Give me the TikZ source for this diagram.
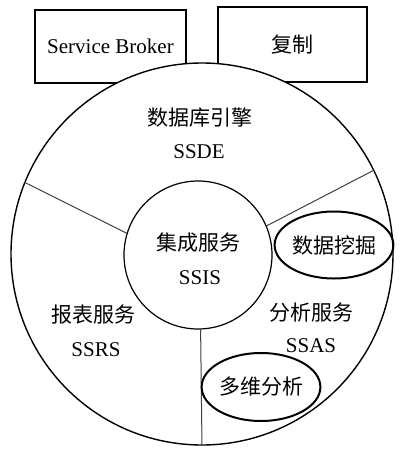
\documentclass[tikz,border=0pt]{standalone}
\usepackage{fontspec}
\setmainfont{Liberation Serif}
\newfontfamily\cjk{Noto Sans CJK SC}
\usetikzlibrary{shapes.geometric}
\tikzset{
  box/.style={draw,line width=1.1pt,fill=white,inner sep=0pt,minimum width=151pt,minimum height=73pt},
  ring/.style={draw,circle,line width=1.4pt,fill=white,inner sep=0pt},
  oval/.style={draw,ellipse,line width=2pt,inner sep=0pt,minimum width=108pt,minimum height=67pt},
  lbl/.style={inner sep=0pt,font=\fontsize{21}{25}\selectfont},
  spoke/.style={draw=black!75,line width=1pt}
}
\begin{document}
\begin{tikzpicture}[x=1pt,y=-1pt]
      \useasboundingbox[fill=white] (0,0) rectangle (412,453);
      % boxes behind the engine ring
      \node[box,font=\fontsize{21}{25}\selectfont] (SB) at (110.5,46.5) {Service Broker};
      \node[box,minimum width=149pt,minimum height=75pt,font=\fontsize{21}{25}\selectfont] (FZ) at (292.5,44.5) {\cjk 复制};
      % rings
      \node[ring,minimum size=382pt] (DB) at (202,254) {};
      \node[ring,minimum size=148pt,line width=1.2pt] (IS) at (198,255) {};
      \draw[spoke] (IS.163)--(DB.158);
      \draw[spoke] (IS.23)--(DB.26);
      \draw[spoke] (IS.272)--(DB.270);
      % labels
      \node[lbl] (SSDEcn) at (200,118) {\cjk 数据库引擎};
      \node[lbl] (SSDE) at (199,152) {SSDE};
      \node[lbl] (SSIScn) at (198,243) {\cjk 集成服务};
      \node[lbl] (SSIS) at (200,278) {SSIS};
      \node[lbl] (SSRScn) at (94,315) {\cjk 报表服务};
      \node[lbl] (SSRS) at (96,350) {SSRS};
      \node[lbl] (SSAScn) at (311,313) {\cjk 分析服务};
      \node[lbl] (SSAS) at (311,346) {SSAS};
      \node[oval,font=\fontsize{21}{25}\selectfont] (WJ) at (334,245) {\cjk 数据挖掘};
      \node[oval,minimum height=68pt,font=\fontsize{21}{25}\selectfont] (DW) at (261,387) {\cjk 多维分析};
\end{tikzpicture}
\end{document}
